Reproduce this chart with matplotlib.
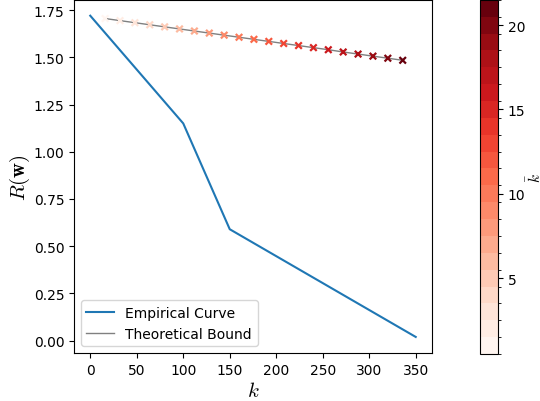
import numpy as np
import matplotlib
matplotlib.use("Agg")
import matplotlib.pyplot as plt
from matplotlib.colors import BoundaryNorm
from matplotlib.ticker import FixedLocator

plt.rcParams["mathtext.fontset"] = "cm"

# Empirical risk curve
emp_k = [0, 100, 150, 350]
emp_r = [1.72, 1.15, 0.59, 0.02]

# Theoretical bound evaluated at sampled k, with the iteration index k-bar
bound_k = [16, 32, 48, 64, 80, 96, 112, 128, 144, 160, 176,
           192, 208, 224, 240, 256, 272, 288, 304, 320, 336]
bound_r = [1.705, 1.694, 1.683, 1.672, 1.661, 1.650, 1.639, 1.628, 1.617,
           1.606, 1.595, 1.584, 1.573, 1.562, 1.551, 1.540, 1.528, 1.517,
           1.506, 1.495, 1.484]
kbar = list(range(1, 22))

cbar_ticks = [5, 10, 15, 20]

fig = plt.figure(figsize=(5.40, 4.02), dpi=100)
ax = fig.add_axes([0.137, 0.1194, 0.663, 0.879])
cax = fig.add_axes([0.889, 0.117, 0.0333, 0.881])

ax.plot(emp_k, emp_r, color="#1f77b4", lw=1.5, label="Empirical Curve")
ax.plot(bound_k, bound_r, color="gray", lw=1.0, label="Theoretical Bound")

cmap = plt.get_cmap("Reds", len(kbar))
bounds = np.arange(0.5, len(kbar) + 1.0, 1.0)
norm = BoundaryNorm(bounds, cmap.N)
sc = ax.scatter(bound_k, bound_r, c=kbar, cmap=cmap, norm=norm,
                marker="x", s=22, linewidths=1.6, zorder=3)

ax.set_xlabel(r"$k$", fontsize=15, labelpad=2)
ax.set_ylabel(r"$R(\mathbf{w})$", fontsize=15, labelpad=1)
ax.set_xticks([0, 50, 100, 150, 200, 250, 300, 350])
ax.set_yticks([0.0, 0.25, 0.5, 0.75, 1.0, 1.25, 1.5, 1.75])
ax.legend(loc="lower left")

cbar = fig.colorbar(sc, cax=cax)
cbar.set_ticks(cbar_ticks)
cbar.ax.yaxis.set_minor_locator(FixedLocator(bounds))
cbar.set_label(r"$\bar{k}$", fontsize=11, labelpad=0)

fig.savefig("out.png", dpi=100)
